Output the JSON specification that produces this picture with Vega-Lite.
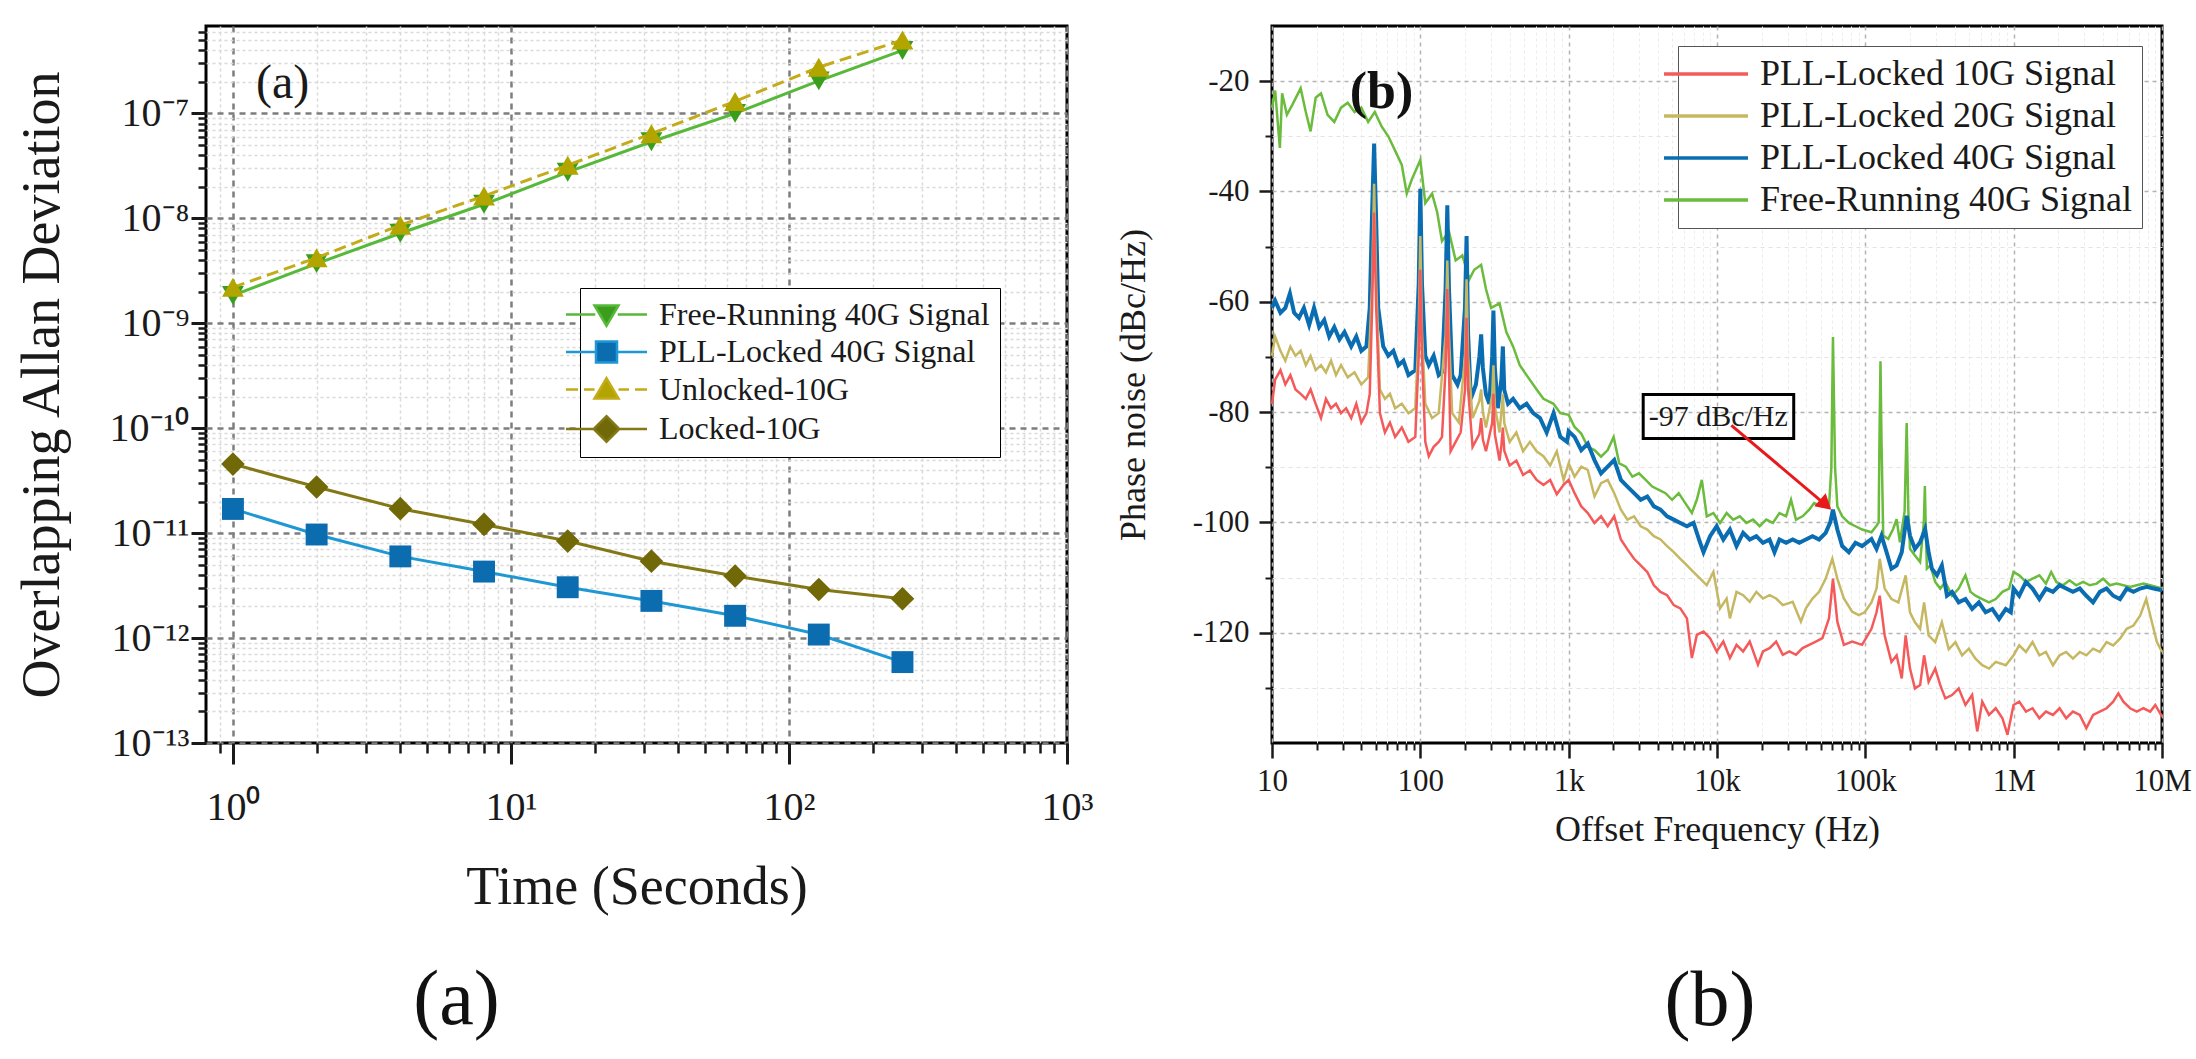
{
  "$schema": "https://vega.github.io/schema/vega-lite/v6.json",
  "background": "white",
  "padding": {"left": 13, "top": 24, "right": 0, "bottom": 0},
  "config": {
    "font": "Liberation Serif",
    "view": {"stroke": "black", "strokeWidth": 3},
    "axis": {"labelFont": "Liberation Serif", "titleFont": "Liberation Serif", "titleFontWeight": "normal", "labelColor": "#1a1a1a", "titleColor": "#1a1a1a", "tickColor": "#1a1a1a", "labelFlush": false, "labelOverlap": false},
    "legend": {"labelFont": "Liberation Serif", "labelColor": "#1a1a1a", "labelLimit": 1000}
  },
  "datasets": {
    "fr": [{"t":1,"v":1.84e-9},{"t":2,"v":3.7e-9},{"t":4,"v":7.2e-9},{"t":8,"v":1.36e-8},{"t":16,"v":2.75e-8},{"t":32,"v":5.36e-8},{"t":64,"v":1.0e-7},{"t":128,"v":2.04e-7},{"t":256,"v":3.98e-7}],
    "ul": [{"t":1,"v":2.2e-9},{"t":2,"v":4.2e-9},{"t":4,"v":8.6e-9},{"t":8,"v":1.63e-8},{"t":16,"v":3.2e-8},{"t":32,"v":6.4e-8},{"t":64,"v":1.3e-7},{"t":128,"v":2.75e-7},{"t":256,"v":5.0e-7}],
    "lk": [{"t":1,"v":4.55e-11},{"t":2,"v":2.75e-11},{"t":4,"v":1.71e-11},{"t":8,"v":1.21e-11},{"t":16,"v":8.4e-12},{"t":32,"v":5.4e-12},{"t":64,"v":3.9e-12},{"t":128,"v":2.9e-12},{"t":256,"v":2.37e-12}],
    "pl": [{"t":1,"v":1.7e-11},{"t":2,"v":9.7e-12},{"t":4,"v":6.0e-12},{"t":8,"v":4.3e-12},{"t":16,"v":3.05e-12},{"t":32,"v":2.26e-12},{"t":64,"v":1.63e-12},{"t":128,"v":1.08e-12},{"t":256,"v":5.9e-13}],
    "green": [{"f":10,"v":-24.8},{"f":10.5,"v":-21.7},{"f":11.3,"v":-32.1},{"f":11.7,"v":-22.2},{"f":12.6,"v":-26.1},{"f":13.7,"v":-24.3},{"f":15.6,"v":-21.3},{"f":16.9,"v":-25.6},{"f":18.2,"v":-29.1},{"f":19.7,"v":-23},{"f":21.4,"v":-22.2},{"f":23.7,"v":-26.1},{"f":26.3,"v":-27.4},{"f":29.2,"v":-24.8},{"f":32.4,"v":-23.9},{"f":36,"v":-25.6},{"f":40,"v":-24.8},{"f":44.5,"v":-27.4},{"f":49.3,"v":-25.6},{"f":54.8,"v":-28.2},{"f":60.8,"v":-30},{"f":67.6,"v":-32.6},{"f":75,"v":-35.2},{"f":81,"v":-40.4},{"f":87.7,"v":-37.8},{"f":100,"v":-34.3},{"f":108,"v":-42.1},{"f":120,"v":-40.4},{"f":130,"v":-43.8},{"f":140,"v":-49},{"f":156,"v":-47.3},{"f":173,"v":-52.5},{"f":192,"v":-51.6},{"f":214,"v":-55.9},{"f":231,"v":-54.2},{"f":257,"v":-53.3},{"f":277,"v":-57.7},{"f":300,"v":-61.1},{"f":342,"v":-60.3},{"f":380,"v":-65.5},{"f":422,"v":-68.1},{"f":468,"v":-71.5},{"f":520,"v":-73.3},{"f":608,"v":-75.9},{"f":676,"v":-77.6},{"f":791,"v":-78.5},{"f":878,"v":-80.2},{"f":1000,"v":-80.5},{"f":1096,"v":-82.7},{"f":1216,"v":-83.9},{"f":1346,"v":-86.3},{"f":1493,"v":-86.9},{"f":1653,"v":-88.1},{"f":1833,"v":-86.9},{"f":2010,"v":-84.5},{"f":2193,"v":-89.3},{"f":2427,"v":-89.9},{"f":2690,"v":-91.7},{"f":2980,"v":-91.1},{"f":3305,"v":-92.3},{"f":3660,"v":-93.5},{"f":4055,"v":-94.1},{"f":4495,"v":-94.7},{"f":4980,"v":-95.9},{"f":5520,"v":-94.7},{"f":6110,"v":-96.5},{"f":6770,"v":-98.3},{"f":7310,"v":-95.9},{"f":7900,"v":-92.3},{"f":8530,"v":-98.9},{"f":9460,"v":-98.3},{"f":10480,"v":-100.1},{"f":11610,"v":-98.3},{"f":12860,"v":-99.5},{"f":14250,"v":-98.9},{"f":15790,"v":-100.1},{"f":17500,"v":-99.5},{"f":19390,"v":-100.7},{"f":21480,"v":-99.5},{"f":23800,"v":-100.1},{"f":26370,"v":-98.3},{"f":29220,"v":-98.9},{"f":31550,"v":-95.9},{"f":34080,"v":-99.5},{"f":37760,"v":-98.9},{"f":41830,"v":-97.7},{"f":45160,"v":-96.5},{"f":51360,"v":-97.1},{"f":56900,"v":-97.1},{"f":59000,"v":-90},{"f":60500,"v":-66.4},{"f":62500,"v":-90},{"f":64760,"v":-97.1},{"f":69840,"v":-98.9},{"f":77450,"v":-100.1},{"f":85820,"v":-100.7},{"f":95090,"v":-101.3},{"f":110000,"v":-101.8},{"f":119000,"v":-100.6},{"f":123000,"v":-100},{"f":124500,"v":-85},{"f":126500,"v":-70.8},{"f":128500,"v":-85},{"f":132000,"v":-102.4},{"f":142600,"v":-103},{"f":154000,"v":-101.2},{"f":162500,"v":-99.4},{"f":171000,"v":-103.6},{"f":184000,"v":-98},{"f":190000,"v":-82},{"f":195000,"v":-98},{"f":200000,"v":-104.8},{"f":216000,"v":-106},{"f":234000,"v":-107.2},{"f":248000,"v":-100},{"f":252000,"v":-93.4},{"f":256000,"v":-102},{"f":260000,"v":-108.4},{"f":274000,"v":-107.8},{"f":296000,"v":-110.8},{"f":320000,"v":-112},{"f":346000,"v":-110.8},{"f":384000,"v":-113.3},{"f":426000,"v":-112},{"f":473000,"v":-109.6},{"f":512000,"v":-112.6},{"f":553000,"v":-113.3},{"f":614000,"v":-113.9},{"f":682000,"v":-114.5},{"f":757000,"v":-113.9},{"f":840000,"v":-112.6},{"f":932000,"v":-112},{"f":998000,"v":-109},{"f":1090000,"v":-109.6},{"f":1210000,"v":-110.8},{"f":1340000,"v":-110.2},{"f":1490000,"v":-109.6},{"f":1650000,"v":-111.1},{"f":1790000,"v":-109},{"f":1940000,"v":-110.8},{"f":2150000,"v":-111.4},{"f":2380000,"v":-110.5},{"f":2640000,"v":-111.4},{"f":2940000,"v":-110.8},{"f":3260000,"v":-111.4},{"f":3620000,"v":-111.1},{"f":4010000,"v":-110.2},{"f":4450000,"v":-111.4},{"f":4940000,"v":-111.1},{"f":5490000,"v":-111.4},{"f":6090000,"v":-111.7},{"f":6760000,"v":-111.4},{"f":7500000,"v":-111.1},{"f":8330000,"v":-111.4},{"f":10000000,"v":-112}],
    "blue": [{"f":10,"v":-61.1},{"f":10.5,"v":-59.8},{"f":11.4,"v":-62},{"f":12.3,"v":-61.1},{"f":13.2,"v":-58.5},{"f":14.1,"v":-62},{"f":15.2,"v":-62.9},{"f":16.4,"v":-61.1},{"f":17.8,"v":-64.2},{"f":19.2,"v":-61.1},{"f":20.8,"v":-64.6},{"f":22.5,"v":-63.3},{"f":24.3,"v":-66.3},{"f":26.3,"v":-64.6},{"f":28.5,"v":-66.8},{"f":30.8,"v":-65.5},{"f":34.2,"v":-68.1},{"f":37,"v":-66.3},{"f":40,"v":-68.9},{"f":43.3,"v":-68.1},{"f":45.6,"v":-61.1},{"f":47.3,"v":-43.8},{"f":48.8,"v":-31.3},{"f":50.4,"v":-45.5},{"f":52,"v":-61.1},{"f":56.2,"v":-68.1},{"f":60.8,"v":-69.8},{"f":65.8,"v":-68.9},{"f":71.2,"v":-71.5},{"f":76.9,"v":-70.7},{"f":83.2,"v":-73.3},{"f":92.5,"v":-72.4},{"f":97.5,"v":-56.8},{"f":100,"v":-39.5},{"f":102.6,"v":-56.8},{"f":108,"v":-69.8},{"f":114,"v":-71.5},{"f":123,"v":-69.8},{"f":133,"v":-73.3},{"f":140,"v":-72.8},{"f":148,"v":-57.7},{"f":152,"v":-42.5},{"f":156,"v":-57.7},{"f":164,"v":-73.3},{"f":178,"v":-75},{"f":187,"v":-73.3},{"f":200,"v":-61},{"f":205,"v":-48.1},{"f":210,"v":-66},{"f":219,"v":-77.6},{"f":237,"v":-75},{"f":250,"v":-70},{"f":257,"v":-65.9},{"f":264,"v":-72},{"f":277,"v":-76.8},{"f":292,"v":-78.5},{"f":305,"v":-70},{"f":311,"v":-61.6},{"f":318,"v":-72},{"f":333,"v":-79.3},{"f":352,"v":-74},{"f":360,"v":-68.1},{"f":368,"v":-76},{"f":390,"v":-78.5},{"f":422,"v":-77.6},{"f":468,"v":-79.3},{"f":520,"v":-78.5},{"f":577,"v":-80.2},{"f":641,"v":-81.1},{"f":711,"v":-83.7},{"f":791,"v":-80.2},{"f":878,"v":-84.5},{"f":975,"v":-85.4},{"f":1000,"v":-83.5},{"f":1096,"v":-84.5},{"f":1216,"v":-86.9},{"f":1346,"v":-85.7},{"f":1493,"v":-88.7},{"f":1653,"v":-91.1},{"f":1833,"v":-89.9},{"f":2028,"v":-88.7},{"f":2249,"v":-92.3},{"f":2490,"v":-93.5},{"f":2760,"v":-94.7},{"f":3060,"v":-95.9},{"f":3390,"v":-95.3},{"f":3755,"v":-97.1},{"f":4160,"v":-97.7},{"f":4610,"v":-98.9},{"f":5110,"v":-99.5},{"f":5660,"v":-100.1},{"f":6270,"v":-100.7},{"f":6950,"v":-100.1},{"f":7700,"v":-103.7},{"f":8110,"v":-105.4},{"f":8980,"v":-102.5},{"f":9950,"v":-100.7},{"f":11030,"v":-103.1},{"f":12220,"v":-101.3},{"f":13540,"v":-104.3},{"f":15000,"v":-101.9},{"f":16620,"v":-103.1},{"f":18420,"v":-102.5},{"f":20410,"v":-103.7},{"f":22610,"v":-103.1},{"f":24410,"v":-105.4},{"f":26370,"v":-103.1},{"f":29220,"v":-103.7},{"f":32380,"v":-103.1},{"f":35870,"v":-103.7},{"f":39740,"v":-103.1},{"f":44040,"v":-102.5},{"f":48790,"v":-103.1},{"f":54060,"v":-101.9},{"f":58000,"v":-100},{"f":60500,"v":-97.7},{"f":64760,"v":-101.3},{"f":69840,"v":-104.3},{"f":77450,"v":-105.4},{"f":85820,"v":-103.7},{"f":95090,"v":-104.3},{"f":110000,"v":-103},{"f":119000,"v":-104.8},{"f":128500,"v":-102.4},{"f":139000,"v":-105.4},{"f":150000,"v":-108.4},{"f":162500,"v":-107.8},{"f":176000,"v":-105.4},{"f":190000,"v":-98.8},{"f":200000,"v":-102.4},{"f":216000,"v":-104.8},{"f":234000,"v":-103.6},{"f":253000,"v":-101.2},{"f":267000,"v":-105.4},{"f":281000,"v":-108.4},{"f":304000,"v":-109.6},{"f":328000,"v":-107.8},{"f":355000,"v":-113.3},{"f":384000,"v":-112.6},{"f":426000,"v":-114.5},{"f":473000,"v":-113.9},{"f":525000,"v":-115.7},{"f":583000,"v":-114.5},{"f":647000,"v":-116.3},{"f":718000,"v":-115.7},{"f":797000,"v":-117.5},{"f":885000,"v":-115.7},{"f":957000,"v":-116.3},{"f":998000,"v":-112},{"f":1090000,"v":-113.3},{"f":1210000,"v":-110.8},{"f":1340000,"v":-112},{"f":1490000,"v":-113.9},{"f":1650000,"v":-112},{"f":1840000,"v":-112.6},{"f":2040000,"v":-111.4},{"f":2260000,"v":-112},{"f":2510000,"v":-112.6},{"f":2790000,"v":-112},{"f":3090000,"v":-113.3},{"f":3430000,"v":-114.5},{"f":3810000,"v":-112.6},{"f":4230000,"v":-112},{"f":4690000,"v":-113.3},{"f":5210000,"v":-113.9},{"f":5780000,"v":-112},{"f":6420000,"v":-112.6},{"f":7120000,"v":-112},{"f":7900000,"v":-111.7},{"f":8770000,"v":-112},{"f":10000000,"v":-112.3}],
    "khaki": [{"f":10,"v":-69.8},{"f":10.5,"v":-66.3},{"f":11.4,"v":-68.9},{"f":12.3,"v":-70.7},{"f":13.3,"v":-68.1},{"f":14.4,"v":-69.8},{"f":15.6,"v":-68.9},{"f":16.9,"v":-71.5},{"f":18.2,"v":-69.8},{"f":19.7,"v":-72.4},{"f":21.4,"v":-71.5},{"f":23.1,"v":-72.8},{"f":25,"v":-70.7},{"f":27,"v":-73.3},{"f":29.2,"v":-71.5},{"f":32.4,"v":-73.7},{"f":36,"v":-72.8},{"f":40,"v":-75},{"f":44.5,"v":-73.7},{"f":47.3,"v":-56.8},{"f":48.8,"v":-38.6},{"f":50.4,"v":-56.8},{"f":53.4,"v":-75.9},{"f":57.7,"v":-77.6},{"f":62.4,"v":-76.7},{"f":67.6,"v":-79.3},{"f":75,"v":-78.5},{"f":83.2,"v":-80.2},{"f":92.5,"v":-79.3},{"f":97.5,"v":-65.5},{"f":100,"v":-48.1},{"f":102.6,"v":-65.5},{"f":108,"v":-78.5},{"f":120,"v":-81.1},{"f":133,"v":-80.2},{"f":148,"v":-66},{"f":152,"v":-52.5},{"f":156,"v":-66},{"f":164,"v":-80.2},{"f":182,"v":-81.9},{"f":200,"v":-70},{"f":205,"v":-55.9},{"f":210,"v":-70},{"f":225,"v":-81.1},{"f":250,"v":-78},{"f":257,"v":-75.9},{"f":264,"v":-80},{"f":277,"v":-82.8},{"f":305,"v":-77},{"f":311,"v":-71.5},{"f":318,"v":-79},{"f":342,"v":-83.7},{"f":352,"v":-80},{"f":360,"v":-76.7},{"f":368,"v":-82},{"f":400,"v":-85.4},{"f":444,"v":-83.7},{"f":493,"v":-87.1},{"f":548,"v":-85.4},{"f":608,"v":-87.1},{"f":676,"v":-88},{"f":750,"v":-89.7},{"f":832,"v":-87.1},{"f":924,"v":-92.3},{"f":1000,"v":-89.3},{"f":1096,"v":-91.7},{"f":1216,"v":-89.9},{"f":1346,"v":-90.5},{"f":1493,"v":-95.3},{"f":1653,"v":-92.9},{"f":1833,"v":-92.3},{"f":2028,"v":-94.7},{"f":2249,"v":-97.7},{"f":2490,"v":-99.5},{"f":2760,"v":-98.9},{"f":3060,"v":-100.7},{"f":3390,"v":-101.3},{"f":3755,"v":-102.5},{"f":4160,"v":-103.1},{"f":4610,"v":-104.3},{"f":5110,"v":-105.4},{"f":5660,"v":-106.6},{"f":6270,"v":-107.8},{"f":6950,"v":-109},{"f":7700,"v":-110.2},{"f":8530,"v":-111.4},{"f":9460,"v":-109},{"f":10480,"v":-115.6},{"f":11610,"v":-113.8},{"f":12220,"v":-117.4},{"f":13540,"v":-112.6},{"f":15000,"v":-113.2},{"f":16620,"v":-114.4},{"f":18420,"v":-112.6},{"f":20410,"v":-113.8},{"f":22610,"v":-113.2},{"f":25050,"v":-113.8},{"f":27760,"v":-115},{"f":32380,"v":-114.4},{"f":36790,"v":-118},{"f":39740,"v":-115.6},{"f":44040,"v":-113.8},{"f":48790,"v":-112.6},{"f":54060,"v":-110.2},{"f":59900,"v":-106.6},{"f":64760,"v":-110.2},{"f":71650,"v":-113.8},{"f":81530,"v":-116.2},{"f":90340,"v":-116.8},{"f":98900,"v":-116.3},{"f":110000,"v":-114.5},{"f":119000,"v":-112},{"f":125000,"v":-106.6},{"f":135000,"v":-112},{"f":150000,"v":-113.9},{"f":167000,"v":-114.5},{"f":187000,"v":-109.6},{"f":200000,"v":-116.3},{"f":216000,"v":-118.1},{"f":234000,"v":-119.3},{"f":249000,"v":-114.5},{"f":267000,"v":-120.5},{"f":296000,"v":-121.7},{"f":328000,"v":-118.1},{"f":365000,"v":-123},{"f":405000,"v":-121.7},{"f":449000,"v":-124.1},{"f":499000,"v":-122.9},{"f":553000,"v":-124.7},{"f":614000,"v":-125.9},{"f":682000,"v":-126.5},{"f":757000,"v":-125.3},{"f":885000,"v":-125.9},{"f":998000,"v":-124.1},{"f":1090000,"v":-122.3},{"f":1210000,"v":-123.5},{"f":1340000,"v":-121.7},{"f":1490000,"v":-124.1},{"f":1650000,"v":-123.5},{"f":1840000,"v":-125.9},{"f":2040000,"v":-124.1},{"f":2260000,"v":-123.5},{"f":2510000,"v":-124.7},{"f":2790000,"v":-123.5},{"f":3090000,"v":-124.1},{"f":3430000,"v":-122.9},{"f":3810000,"v":-123.5},{"f":4230000,"v":-121.7},{"f":4690000,"v":-122.3},{"f":5210000,"v":-121.1},{"f":5780000,"v":-119.3},{"f":6420000,"v":-118.7},{"f":7120000,"v":-116.9},{"f":7830000,"v":-113.9},{"f":8550000,"v":-118.1},{"f":9240000,"v":-121.7},{"f":10000000,"v":-123.5}],
    "red": [{"f":10,"v":-78.5},{"f":10.5,"v":-74.1},{"f":11.4,"v":-72.4},{"f":12.3,"v":-75},{"f":13.3,"v":-73.3},{"f":14.4,"v":-75.9},{"f":15.6,"v":-76.7},{"f":16.9,"v":-77.6},{"f":18.2,"v":-75.9},{"f":19.7,"v":-78.5},{"f":21.4,"v":-81.1},{"f":23.1,"v":-77.6},{"f":25,"v":-79.3},{"f":27,"v":-78.5},{"f":29.2,"v":-80.2},{"f":31.6,"v":-79.3},{"f":34.2,"v":-81.1},{"f":37,"v":-78.5},{"f":40,"v":-81.9},{"f":43.3,"v":-80.2},{"f":45.6,"v":-76.7},{"f":47.3,"v":-61.1},{"f":48.8,"v":-43.8},{"f":50.4,"v":-61.1},{"f":53.4,"v":-80.2},{"f":57.7,"v":-83.7},{"f":62.4,"v":-81.9},{"f":67.6,"v":-84.5},{"f":75,"v":-82.8},{"f":83.2,"v":-85.4},{"f":92.5,"v":-84.5},{"f":97.5,"v":-69.8},{"f":100,"v":-54.2},{"f":102.6,"v":-69.8},{"f":108,"v":-85.4},{"f":114,"v":-88},{"f":123,"v":-86.3},{"f":133,"v":-85.4},{"f":140,"v":-84.5},{"f":148,"v":-72},{"f":152,"v":-57.7},{"f":156,"v":-72},{"f":160,"v":-87.1},{"f":173,"v":-85.4},{"f":187,"v":-83.7},{"f":200,"v":-76},{"f":205,"v":-62.9},{"f":210,"v":-76},{"f":225,"v":-86.3},{"f":250,"v":-84},{"f":257,"v":-81.1},{"f":264,"v":-85},{"f":277,"v":-87.1},{"f":305,"v":-82},{"f":311,"v":-76.7},{"f":318,"v":-84},{"f":342,"v":-88.8},{"f":352,"v":-86},{"f":360,"v":-82.8},{"f":368,"v":-87},{"f":400,"v":-89.7},{"f":444,"v":-88.8},{"f":493,"v":-91.4},{"f":548,"v":-90.6},{"f":608,"v":-92.3},{"f":676,"v":-93.2},{"f":750,"v":-92.3},{"f":832,"v":-94.9},{"f":924,"v":-93.2},{"f":1000,"v":-92.3},{"f":1096,"v":-94.7},{"f":1216,"v":-97.1},{"f":1346,"v":-98.3},{"f":1493,"v":-100.1},{"f":1653,"v":-98.9},{"f":1833,"v":-100.7},{"f":2028,"v":-98.9},{"f":2249,"v":-103.1},{"f":2490,"v":-104.9},{"f":2760,"v":-106.6},{"f":3060,"v":-107.8},{"f":3390,"v":-109},{"f":3755,"v":-111.4},{"f":4160,"v":-112.6},{"f":4610,"v":-113.2},{"f":5110,"v":-115},{"f":5660,"v":-115.6},{"f":6270,"v":-117.4},{"f":6770,"v":-124.6},{"f":7310,"v":-120.4},{"f":8110,"v":-119.8},{"f":8980,"v":-121},{"f":9950,"v":-123.4},{"f":11030,"v":-121.6},{"f":12220,"v":-124.6},{"f":13540,"v":-122.2},{"f":15000,"v":-123.4},{"f":16620,"v":-121.6},{"f":18890,"v":-125.8},{"f":20410,"v":-123.4},{"f":22610,"v":-122.8},{"f":25050,"v":-121.6},{"f":27760,"v":-124},{"f":30760,"v":-123.4},{"f":34080,"v":-124},{"f":37760,"v":-122.8},{"f":41830,"v":-122.2},{"f":46350,"v":-121.6},{"f":51360,"v":-121},{"f":56900,"v":-117.4},{"f":60500,"v":-110.2},{"f":64760,"v":-118},{"f":71650,"v":-122.2},{"f":81530,"v":-121.6},{"f":95090,"v":-122.2},{"f":110000,"v":-119.3},{"f":119000,"v":-116.3},{"f":125000,"v":-113.3},{"f":135000,"v":-120.5},{"f":150000,"v":-125.3},{"f":162500,"v":-124.1},{"f":176000,"v":-128.3},{"f":187000,"v":-120.5},{"f":200000,"v":-126.5},{"f":216000,"v":-130.1},{"f":234000,"v":-129.5},{"f":249000,"v":-124.1},{"f":267000,"v":-128.9},{"f":296000,"v":-126.5},{"f":320000,"v":-129.5},{"f":346000,"v":-131.9},{"f":384000,"v":-131.3},{"f":426000,"v":-130.1},{"f":473000,"v":-133.1},{"f":525000,"v":-131.3},{"f":568000,"v":-137.9},{"f":614000,"v":-132.5},{"f":682000,"v":-134.9},{"f":757000,"v":-133.7},{"f":840000,"v":-135.5},{"f":908000,"v":-138.5},{"f":998000,"v":-133.1},{"f":1090000,"v":-132.5},{"f":1210000,"v":-134.3},{"f":1340000,"v":-133.7},{"f":1490000,"v":-135.5},{"f":1650000,"v":-134.3},{"f":1840000,"v":-134.9},{"f":2040000,"v":-133.7},{"f":2260000,"v":-135.5},{"f":2510000,"v":-134.3},{"f":2790000,"v":-134.9},{"f":3090000,"v":-137.3},{"f":3430000,"v":-134.9},{"f":3810000,"v":-134.3},{"f":4230000,"v":-133.7},{"f":4690000,"v":-132.5},{"f":5080000,"v":-131},{"f":5490000,"v":-132.5},{"f":6090000,"v":-133.7},{"f":6760000,"v":-134.3},{"f":7500000,"v":-133.7},{"f":8330000,"v":-134.3},{"f":9010000,"v":-133.1},{"f":10000000,"v":-135.2}]
  },
  "resolve": {"scale": {"color": "independent", "fill": "independent", "stroke": "independent", "shape": "independent"}},
  "bounds": "flush",
  "spacing": 205,
  "hconcat": [
    {
      "width": 861,
      "height": 717,
      "title": {"text": "(a)", "orient": "bottom", "fontSize": 78, "font": "Liberation Serif", "fontWeight": "normal", "color": "#111", "offset": 48, "dx": -180},
      "layer": [
        {
          "encoding": {
            "x": {"field": "t", "type": "quantitative", "scale": {"type": "log", "domain": [0.8, 1000], "nice": false},
              "axis": {"title": "Time (Seconds)", "titleFontSize": 54, "titlePadding": 33, "values": [1, 10, 100, 1000],
                "labelExpr": "['10⁰','10¹','10²','10³'][round(log(datum.value)/LN10)]",
                "labelFontSize": 40, "labelPadding": 23, "labelBaseline": "top", "tickSize": 21, "tickWidth": 3, "domain": false,
                "grid": true, "gridColor": "#7d7d7d", "gridDash": [6, 5], "gridWidth": 2.5}},
            "y": {"field": "v", "type": "quantitative", "scale": {"type": "log", "domain": [1e-13, 6.8e-7], "nice": false},
              "axis": {"title": "Overlapping Allan Deviation", "titleFontSize": 54, "titlePadding": 40, "values": [1e-13, 1e-12, 1e-11, 1e-10, 1e-9, 1e-8, 1e-7],
                "labelExpr": "['10⁻¹³','10⁻¹²','10⁻¹¹','10⁻¹⁰','10⁻⁹','10⁻⁸','10⁻⁷'][round(log(datum.value)/LN10)+13]",
                "labelFontSize": 40, "labelPadding": 2, "tickSize": 15, "tickWidth": 3, "domain": false,
                "grid": true, "gridColor": "#7d7d7d", "gridDash": [6, 5], "gridWidth": 2.5}}
          },
          "layer": [
            {"data": {"name": "fr"}, "mark": {"type": "line", "color": "#58b83a", "strokeWidth": 3}},
            {"data": {"name": "fr"}, "mark": {"type": "point", "shape": "triangle-down", "filled": true, "opacity": 1, "color": "#3a9d1c", "size": 480}},
            {"data": {"name": "ul"}, "mark": {"type": "line", "color": "#c3ab1a", "strokeWidth": 3, "strokeDash": [12, 6]}},
            {"data": {"name": "ul"}, "mark": {"type": "point", "shape": "triangle-up", "filled": true, "opacity": 1, "color": "#b3a500", "size": 480}},
            {"data": {"name": "pl"}, "mark": {"type": "line", "color": "#1e98d3", "strokeWidth": 3}},
            {"data": {"name": "pl"}, "mark": {"type": "point", "shape": "square", "filled": true, "opacity": 1, "color": "#0b6cb0", "size": 480}},
            {"data": {"name": "lk"}, "mark": {"type": "line", "color": "#847816", "strokeWidth": 3}},
            {"data": {"name": "lk"}, "mark": {"type": "point", "shape": "diamond", "filled": true, "opacity": 1, "color": "#716808", "size": 560}},
            {"data": {"values": [{"t": 1.51, "v": 1.9e-7, "txt": "(a)"}]}, "mark": {"type": "text", "fontSize": 48, "font": "Liberation Serif", "color": "#1a1a1a"}, "encoding": {"text": {"field": "txt"}}},
            {
              "data": {"values": [{"s": "Free-Running 40G Signal"}, {"s": "PLL-Locked 40G Signal"}, {"s": "Unlocked-10G"}, {"s": "Locked-10G"}]},
              "transform": [{"filter": "false"}],
              "mark": {"type": "point", "filled": true, "opacity": 1},
              "encoding": {
                "fill": {"field": "s", "type": "nominal", "scale": {"domain": ["Free-Running 40G Signal", "PLL-Locked 40G Signal", "Unlocked-10G", "Locked-10G"], "range": ["#3a9d1c", "#0b6cb0", "#b3a500", "#716808"]},
                  "legend": {"title": null, "orient": "none", "legendX": 374, "legendY": 262, "symbolSize": 900, "labelOffset": 36, "labelFontSize": 32, "labelLimit": 1000, "rowPadding": 4.5, "padding": 10, "strokeColor": "black", "fillColor": "white", "symbolStrokeWidth": 2.5}},
                "stroke": {"field": "s", "type": "nominal", "scale": {"domain": ["Free-Running 40G Signal", "PLL-Locked 40G Signal", "Unlocked-10G", "Locked-10G"], "range": ["#58b83a", "#1e98d3", "#c3ab1a", "#847816"]},
                  "legend": {"title": null, "orient": "none", "legendX": 374, "legendY": 262, "symbolSize": 900, "labelOffset": 36, "labelFontSize": 32, "labelLimit": 1000, "rowPadding": 4.5, "padding": 10, "strokeColor": "black", "fillColor": "white", "symbolStrokeWidth": 2.5}},
                "shape": {"field": "s", "type": "nominal", "scale": {"domain": ["Free-Running 40G Signal", "PLL-Locked 40G Signal", "Unlocked-10G", "Locked-10G"],
                  "range": ["M-2.7,0H-0.75M0.75,0H1.4M1.4,0H2.7M-0.8,-0.6L0.8,-0.6L0,0.75Z", "M-2.7,0H-0.7M0.7,0H2.7M-0.7,-0.7H0.7V0.7H-0.7Z", "M-2.7,0H-1.9M-1.5,0H-0.8M0.8,0H1.5M1.9,0H2.7M-0.8,0.6L0.8,0.6L0,-0.75Z", "M-2.7,0H-0.85M0.85,0H2.7M0,-0.85L0.85,0L0,0.85L-0.85,0Z"]},
                  "legend": {"title": null, "orient": "none", "legendX": 374, "legendY": 262, "symbolSize": 900, "labelOffset": 36, "labelFontSize": 32, "labelLimit": 1000, "rowPadding": 4.5, "padding": 10, "strokeColor": "black", "fillColor": "white", "symbolStrokeWidth": 2.5}}
              }
            }
          ]
        },
        {
          "data": {"values": []},
          "mark": {"type": "point"},
          "encoding": {
            "x": {"field": "t", "type": "quantitative", "scale": {"type": "log", "domain": [0.8, 1000], "nice": false},
              "axis": {"orient": "bottom", "title": null, "labels": false, "domain": false, "tickSize": 10, "tickWidth": 2.5,
                "values": [0.9, 2, 3, 4, 5, 6, 7, 8, 9, 20, 30, 40, 50, 60, 70, 80, 90, 200, 300, 400, 500, 600, 700, 800, 900],
                "grid": true, "gridColor": "#d9d9d9", "gridDash": [3, 3], "gridWidth": 1.5}},
            "y": {"field": "v", "type": "quantitative", "scale": {"type": "log", "domain": [1e-13, 6.8e-7], "nice": false},
              "axis": {"orient": "left", "title": null, "labels": false, "domain": false, "tickSize": 8, "tickWidth": 2.5,
                "values": [2e-13, 3e-13, 4e-13, 5e-13, 6e-13, 7e-13, 8e-13, 9e-13, 2e-12, 3e-12, 4e-12, 5e-12, 6e-12, 7e-12, 8e-12, 9e-12, 2e-11, 3e-11, 4e-11, 5e-11, 6e-11, 7e-11, 8e-11, 9e-11, 2e-10, 3e-10, 4e-10, 5e-10, 6e-10, 7e-10, 8e-10, 9e-10, 2e-9, 3e-9, 4e-9, 5e-9, 6e-9, 7e-9, 8e-9, 9e-9, 2e-8, 3e-8, 4e-8, 5e-8, 6e-8, 7e-8, 8e-8, 9e-8, 2e-7, 3e-7, 4e-7, 5e-7, 6e-7],
                "grid": true, "gridColor": "#d9d9d9", "gridDash": [3, 3], "gridWidth": 1.5}}
          }
        }
      ],
      "resolve": {"axis": {"x": "independent", "y": "independent"}}
    },
    {
      "width": 890,
      "height": 717,
      "title": {"text": "(b)", "orient": "bottom", "fontSize": 78, "font": "Liberation Serif", "fontWeight": "normal", "color": "#111", "offset": 116, "dx": -7},
      "layer": [
        {
          "encoding": {
            "x": {"field": "f", "type": "quantitative", "scale": {"type": "log", "domain": [10, 10000000], "nice": false},
              "axis": {"title": "Offset Frequency (Hz)", "titleFontSize": 36, "titlePadding": 16, "values": [10, 100, 1000, 10000, 100000, 1000000, 10000000],
                "format": "~s", "labelFontSize": 31, "labelPadding": 8, "labelBaseline": "top", "tickSize": 15, "tickWidth": 2.5, "domain": false,
                "grid": true, "gridColor": "#b3b3b3", "gridDash": [4, 4], "gridWidth": 1.5}},
            "y": {"field": "v", "type": "quantitative", "scale": {"domain": [-140, -10], "nice": false, "zero": false},
              "axis": {"title": "Phase noise (dBc/Hz)", "titleFontSize": 36, "titlePadding": 40, "values": [-120, -100, -80, -60, -40, -20],
                "labelExpr": "'-' + abs(datum.value)", "labelFontSize": 31, "labelPadding": 10, "tickSize": 13, "tickWidth": 2.5, "domain": false,
                "grid": true, "gridColor": "#b3b3b3", "gridDash": [4, 4], "gridWidth": 1.5}}
          },
          "layer": [
            {"data": {"name": "green"}, "mark": {"type": "line", "strokeWidth": 2.5}, "encoding": {"color": {"datum": "Free-Running 40G Signal", "type": "nominal",
              "scale": {"domain": ["PLL-Locked 10G Signal", "PLL-Locked 20G Signal", "PLL-Locked 40G Signal", "Free-Running 40G Signal"], "range": ["#f55a5a", "#c6b862", "#0b6db1", "#6bbb3d"]},
              "legend": {"title": null, "orient": "top-right", "offset": 20, "symbolType": "M-2.8,0H2.8", "symbolSize": 900, "symbolStrokeWidth": 3.5, "labelOffset": 36, "labelFontSize": 36, "labelLimit": 1000, "rowPadding": 6, "padding": 10, "strokeColor": "#555", "fillColor": "white"}}}},
            {"data": {"name": "blue"}, "mark": {"type": "line", "strokeWidth": 4}, "encoding": {"color": {"datum": "PLL-Locked 40G Signal", "type": "nominal"}}},
            {"data": {"name": "khaki"}, "mark": {"type": "line", "strokeWidth": 2.5}, "encoding": {"color": {"datum": "PLL-Locked 20G Signal", "type": "nominal"}}},
            {"data": {"name": "red"}, "mark": {"type": "line", "strokeWidth": 2.5}, "encoding": {"color": {"datum": "PLL-Locked 10G Signal", "type": "nominal"}}},
            {"data": {"values": [{"f": 3180, "f2": 32900, "v": -76.8, "v2": -84.8}]}, "mark": {"type": "rect", "fillOpacity": 0, "stroke": "black", "strokeWidth": 3},
              "encoding": {"x2": {"field": "f2"}, "y2": {"field": "v2"}}},
            {"data": {"values": [{"f": 10200, "v": -80.9, "txt": "-97 dBc/Hz"}]}, "mark": {"type": "text", "fontSize": 30, "font": "Liberation Serif", "color": "#1a1a1a"}, "encoding": {"text": {"field": "txt"}}},
            {"data": {"values": [{"f": 12500, "v": -82.4, "f2": 55000, "v2": -97.0}]}, "mark": {"type": "rule", "color": "#e8191b", "strokeWidth": 3},
              "encoding": {"x2": {"field": "f2"}, "y2": {"field": "v2"}}},
            {"data": {"values": [{"f": 54000, "v": -96.8}]}, "mark": {"type": "point", "shape": "triangle-right", "angle": 41, "size": 300, "filled": true, "opacity": 1, "color": "#e8191b"}},
            {"data": {"values": [{"f": 54.8, "v": -22, "txt": "(b)"}]}, "mark": {"type": "text", "fontSize": 52, "fontWeight": "bold", "font": "Liberation Serif", "color": "#111"}, "encoding": {"text": {"field": "txt"}}}
          ]
        },
        {
          "data": {"values": []},
          "mark": {"type": "point"},
          "encoding": {
            "x": {"field": "f", "type": "quantitative", "scale": {"type": "log", "domain": [10, 10000000], "nice": false},
              "axis": {"orient": "bottom", "title": null, "labels": false, "domain": false, "tickSize": 7, "tickWidth": 2,
                "values": [20, 30, 40, 50, 60, 70, 80, 90, 200, 300, 400, 500, 600, 700, 800, 900, 2000, 3000, 4000, 5000, 6000, 7000, 8000, 9000, 20000, 30000, 40000, 50000, 60000, 70000, 80000, 90000, 200000, 300000, 400000, 500000, 600000, 700000, 800000, 900000, 2000000, 3000000, 4000000, 5000000, 6000000, 7000000, 8000000, 9000000],
                "grid": true, "gridColor": "#ececec", "gridDash": [3, 3], "gridWidth": 1}},
            "y": {"field": "v", "type": "quantitative", "scale": {"domain": [-140, -10], "nice": false, "zero": false},
              "axis": {"orient": "left", "title": null, "labels": false, "domain": false, "tickSize": 7, "tickWidth": 2,
                "values": [-130, -110, -90, -70, -50, -30],
                "grid": true, "gridColor": "#e3e3e3", "gridDash": [4, 4], "gridWidth": 1}}
          }
        }
      ],
      "resolve": {"axis": {"x": "independent", "y": "independent"}}
    }
  ]
}
